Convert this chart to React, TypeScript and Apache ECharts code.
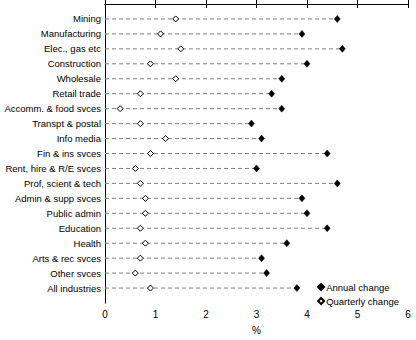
import React, { useEffect, useRef } from "react";
import * as echarts from "echarts";

const categories = [
  "Mining",
  "Manufacturing",
  "Elec., gas etc",
  "Construction",
  "Wholesale",
  "Retail trade",
  "Accomm. & food svces",
  "Transpt & postal",
  "Info media",
  "Fin & ins svces",
  "Rent, hire & R/E svces",
  "Prof, scient & tech",
  "Admin & supp svces",
  "Public admin",
  "Education",
  "Health",
  "Arts & rec svces",
  "Other svces",
  "All industries",
];

const annualChange = [4.6, 3.9, 4.7, 4.0, 3.5, 3.3, 3.5, 2.9, 3.1, 4.4, 3.0, 4.6, 3.9, 4.0, 4.4, 3.6, 3.1, 3.2, 3.8];
const quarterlyChange = [1.4, 1.1, 1.5, 0.9, 1.4, 0.7, 0.3, 0.7, 1.2, 0.9, 0.6, 0.7, 0.8, 0.8, 0.7, 0.8, 0.7, 0.6, 0.9];

const xTicks = [0, 1, 2, 3, 4, 5, 6];

const FONT = "Liberation Sans, Arial, sans-serif";

export default function App() {
  const ref = useRef<HTMLDivElement>(null);

  useEffect(() => {
    if (!ref.current) return;
    const chart = echarts.init(ref.current, undefined, { renderer: "svg" });
    const annualData = annualChange.map((v, i) => [v, i + 1]);
    const quarterlyData = quarterlyChange.map((v, i) => [v, i + 1]);

    chart.setOption({
      animation: false,
      backgroundColor: "#fff",
      textStyle: { fontFamily: FONT },
      grid: { left: 105, right: 8, top: 4, bottom: 33, containLabel: false },
      legend: {
        orient: "vertical",
        right: 12,
        top: 277,
        itemWidth: 6,
        itemHeight: 6,
        itemGap: 4,
        textStyle: { fontFamily: FONT, fontSize: 9.5, color: "#000", padding: [0, 0, 0, -3] },
        data: [
          { name: "Annual change", icon: "diamond" },
          { name: "Quarterly change", icon: "diamond" },
        ],
      },
      xAxis: [
        {
          type: "value",
          position: "bottom",
          min: 0,
          max: 6,
          interval: 1,
          name: "%",
          nameLocation: "middle",
          nameGap: 22,
          nameTextStyle: { fontFamily: FONT, fontSize: 10, color: "#000" },
          axisLine: { show: true, lineStyle: { color: "#000", width: 1 } },
          axisTick: { show: true, length: 4, lineStyle: { color: "#000" } },
          axisLabel: {
            fontFamily: FONT,
            fontSize: 10,
            color: "#000",
            margin: 6,
            formatter: (v: number) => (xTicks.includes(v) ? String(v) : ""),
          },
          splitLine: { show: false },
        },
        {
          type: "value",
          position: "top",
          min: 0,
          max: 6,
          interval: 1,
          axisLine: { show: true, lineStyle: { color: "#000", width: 1 } },
          axisTick: { show: true, length: 4, lineStyle: { color: "#000" } },
          axisLabel: { show: false },
          splitLine: { show: false },
        },
      ],
      yAxis: [
        {
          type: "value",
          position: "left",
          min: 0,
          max: 20,
          interval: 1,
          inverse: true,
          axisLine: { show: true, lineStyle: { color: "#000", width: 1 } },
          axisTick: { show: false },
          splitLine: { show: false },
          axisLabel: {
            fontFamily: FONT,
            fontSize: 9.5,
            color: "#000",
            margin: 4,
            formatter: (v: number) => categories[v - 1] ?? "",
          },
        },
        {
          type: "value",
          position: "right",
          min: 0,
          max: 20,
          interval: 1,
          inverse: true,
          axisLine: { show: true, lineStyle: { color: "#000", width: 1 } },
          axisTick: { show: false },
          axisLabel: { show: false },
          splitLine: { show: false },
        },
      ],
      series: [
        {
          type: "custom",
          name: "guides",
          xAxisIndex: 0,
          yAxisIndex: 0,
          silent: true,
          data: annualData,
          renderItem: (params: any, api: any) => {
            const start = api.coord([0, api.value(1)]);
            const end = api.coord([api.value(0), api.value(1)]);
            return {
              type: "line",
              shape: { x1: start[0], y1: start[1], x2: end[0], y2: end[1] },
              style: { stroke: "#808080", lineWidth: 1, lineDash: [4, 3] },
            };
          },
          z: 1,
        },
        {
          type: "scatter",
          name: "Annual change",
          xAxisIndex: 0,
          yAxisIndex: 0,
          symbol: "diamond",
          symbolSize: [6, 7],
          itemStyle: { color: "#000", borderColor: "#000", borderWidth: 0.5, opacity: 1 },
          data: annualData,
          z: 3,
        },
        {
          type: "scatter",
          name: "Quarterly change",
          xAxisIndex: 0,
          yAxisIndex: 0,
          symbol: "diamond",
          symbolSize: 6,
          itemStyle: { color: "#fff", borderColor: "#000", borderWidth: 1, opacity: 1 },
          data: quarterlyData,
          z: 3,
        },
      ],
    });

    return () => chart.dispose();
  }, []);

  return <div ref={ref} style={{ width: 416, height: 340, position: "absolute", left: 0, top: 0 }} />;
}
